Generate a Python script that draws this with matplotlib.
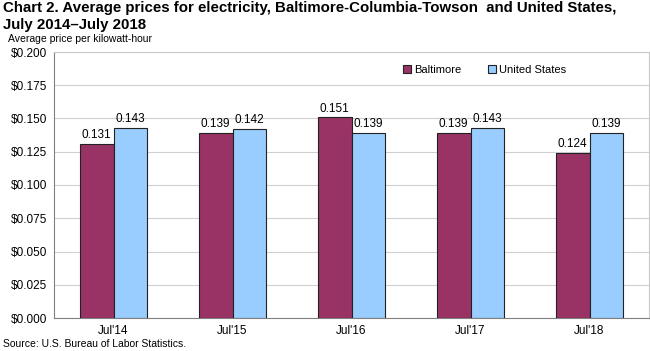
import matplotlib.pyplot as plt
import numpy as np

plt.rcParams["font.family"] = ["Liberation Sans", "DejaVu Sans"]

# --- Data ---
periods = ["Jul'14", "Jul'15", "Jul'16", "Jul'17", "Jul'18"]
baltimore = [0.131, 0.139, 0.151, 0.139, 0.124]
united_states = [0.143, 0.142, 0.139, 0.143, 0.139]

# --- Plot ---
fig = plt.figure(figsize=(6.5, 3.51), dpi=100)
ax = fig.add_axes([54 / 650, 1 - 318 / 351, 595 / 650, 266 / 351])

x = np.arange(len(periods))
w = 0.285
b1 = ax.bar(x - w / 2, baltimore, w, color="#993366", edgecolor="#222222",
            linewidth=0.8, label="Baltimore", zorder=3)
b2 = ax.bar(x + w / 2, united_states, w, color="#99CCFF", edgecolor="#222222",
            linewidth=0.8, label="United States", zorder=3)

for bars in (b1, b2):
    for r in bars:
        ax.text(r.get_x() + r.get_width() / 2, r.get_height() + 0.002,
                f"{r.get_height():.3f}", ha="center", va="bottom", fontsize=8.5)

ax.set_xlim(-0.5, len(periods) - 0.5)
ax.set_ylim(0, 0.2)
ax.set_yticks(np.arange(0, 0.2001, 0.025))
ax.set_yticklabels([f"${v:.3f}" for v in np.arange(0, 0.2001, 0.025)])
ax.set_xticks(x)
ax.set_xticklabels(periods)
ax.tick_params(axis="both", length=0, labelsize=8.5, pad=5)
ax.grid(axis="y", color="#d0d0d0", linewidth=0.8, zorder=0)

for s in ("top", "right"):
    ax.spines[s].set_color("#c8c8c8")
ax.spines["left"].set_color("#808080")
ax.spines["bottom"].set_color("#808080")

ax.legend(loc="upper left", bbox_to_anchor=(0.57, 0.99), ncol=2, frameon=False,
          fontsize=8, handlelength=0.7, handleheight=0.7, handletextpad=0.3,
          columnspacing=2.4)

fig.text(3 / 650, 1 - 1 / 351,
         "Chart 2. Average prices for electricity, Baltimore-Columbia-Towson  and United States,\nJuly 2014\u2013July 2018",
         ha="left", va="top", fontsize=10.8, fontweight="bold", linespacing=1.25)
fig.text(8 / 650, 1 - 39 / 351, "Average price per kilowatt-hour",
         ha="left", va="center", fontsize=7.5)
fig.text(3 / 650, 1 - 344 / 351, "Source: U.S. Bureau of Labor Statistics.",
         ha="left", va="center", fontsize=7.5)

fig.savefig("out.png", dpi=100)
